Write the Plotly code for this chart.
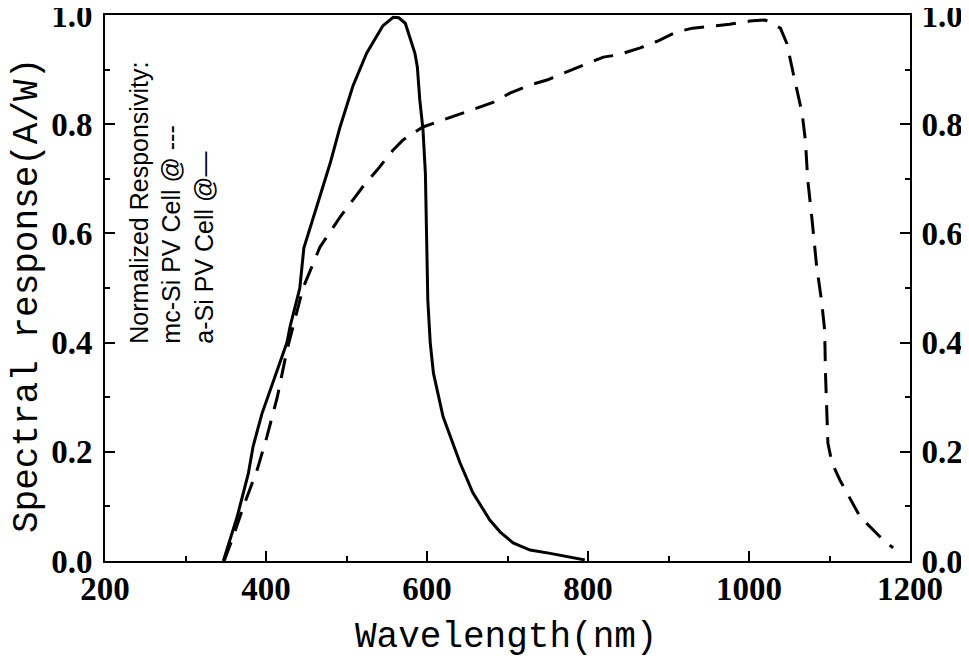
import plotly.graph_objects as go

# a-Si PV cell (solid)
asi_nm = [347, 364, 378, 384, 395, 409, 426, 430, 442, 447, 463, 480, 492, 508, 525,
          545, 558, 565, 573, 585, 588, 591, 595, 598, 601, 604, 608, 620, 641, 657,
          678, 691, 707, 728, 753, 774, 796]
asi_resp = [0.0, 0.08, 0.16, 0.21, 0.27, 0.33, 0.40, 0.43, 0.50, 0.573, 0.65, 0.73, 0.795,
            0.87, 0.93, 0.98, 0.996, 0.995, 0.985, 0.93, 0.905, 0.845, 0.79, 0.71, 0.478,
            0.40, 0.344, 0.264, 0.18, 0.125, 0.075, 0.053, 0.033, 0.02, 0.014, 0.008, 0.002]

# mc-Si PV cell (dashed)
mcsi_nm = [348, 359, 372, 389, 401, 414, 426, 434, 446, 467, 492, 520, 538, 558, 570,
           595, 614, 660, 682, 703, 728, 749, 774, 794, 819, 837, 865, 886, 910, 930,
           955, 976, 1001, 1020, 1039, 1047, 1055, 1066, 1070, 1073, 1078, 1084, 1090,
           1094, 1095, 1098, 1103, 1113, 1138, 1163, 1179]
mcsi_resp = [0.0, 0.044, 0.10, 0.167, 0.227, 0.30, 0.386, 0.43, 0.50, 0.575, 0.63, 0.685,
             0.716, 0.753, 0.771, 0.795, 0.805, 0.828, 0.84, 0.857, 0.872, 0.881, 0.896,
             0.908, 0.923, 0.927, 0.94, 0.952, 0.969, 0.976, 0.98, 0.983, 0.989, 0.991,
             0.976, 0.948, 0.893, 0.82, 0.771, 0.698, 0.63, 0.54, 0.478, 0.423, 0.344,
             0.216, 0.18, 0.148, 0.081, 0.044, 0.024]

x_ticks = [200, 400, 600, 800, 1000, 1200]
y_ticks = [0.0, 0.2, 0.4, 0.6, 0.8, 1.0]
y_labels = ["0.0", "0.2", "0.4", "0.6", "0.8", "1.0"]

tick_font = dict(family="Liberation Serif", size=33, color="black", weight="bold")
title_font = dict(family="Liberation Mono", size=36, color="black")

fig = go.Figure()
fig.add_trace(go.Scatter(x=asi_nm, y=asi_resp, mode="lines",
                         line=dict(color="black", width=3)))
fig.add_trace(go.Scatter(x=mcsi_nm, y=mcsi_resp, mode="lines", yaxis="y2",
                         line=dict(color="black", width=3, dash="20px,12px")))

axis_common = dict(showline=True, linecolor="black", linewidth=2, showgrid=False,
                   zeroline=False, ticks="inside", ticklen=10, tickwidth=2,
                   tickcolor="black", tickfont=tick_font, automargin=False,
                   ticklabeloverflow="allow")
minor_common = dict(ticks="inside", ticklen=5, tickwidth=2, tickcolor="black")

# page body has an 8px margin, so the figure is a bit smaller than the window
fig.update_layout(
    width=961, height=654,
    margin=dict(l=97, r=59, t=7, b=101),
    paper_bgcolor="white", plot_bgcolor="white",
    showlegend=False,
    xaxis=dict(range=[200, 1200], tickvals=x_ticks, mirror=True,
               minor=dict(dtick=100, **minor_common),
               ticklabelstandoff=-3, **axis_common),
    yaxis=dict(range=[0, 1.0001], tickvals=y_ticks, ticktext=y_labels,
               minor=dict(dtick=0.1, **minor_common),
               ticklabelstandoff=4, **axis_common),
    yaxis2=dict(range=[0, 1.0001], tickvals=y_ticks, ticktext=y_labels, overlaying="y",
                side="right", anchor="x",
                minor=dict(dtick=0.1, **minor_common),
                ticklabelstandoff=3, **axis_common),
    annotations=[
        dict(text="Wavelength(nm)", xref="paper", yref="paper", x=0.498, y=-0.141,
             showarrow=False, font=title_font, xanchor="center", yanchor="middle"),
        dict(text="Spectral response(A/W)", xref="paper", yref="paper", x=-0.097,
             y=0.487, showarrow=False, font=title_font, textangle=-90,
             xanchor="center", yanchor="middle"),
        dict(text="Normalized Responsivity:<br>mc-Si PV Cell @ ---<br>a-Si PV Cell @\u2014",
             x=283, y=0.656, showarrow=False, textangle=-90, align="left",
             font=dict(family="Liberation Sans", size=25, color="black"),
             xanchor="center", yanchor="middle"),
    ],
)

fig.write_html("out.html")
